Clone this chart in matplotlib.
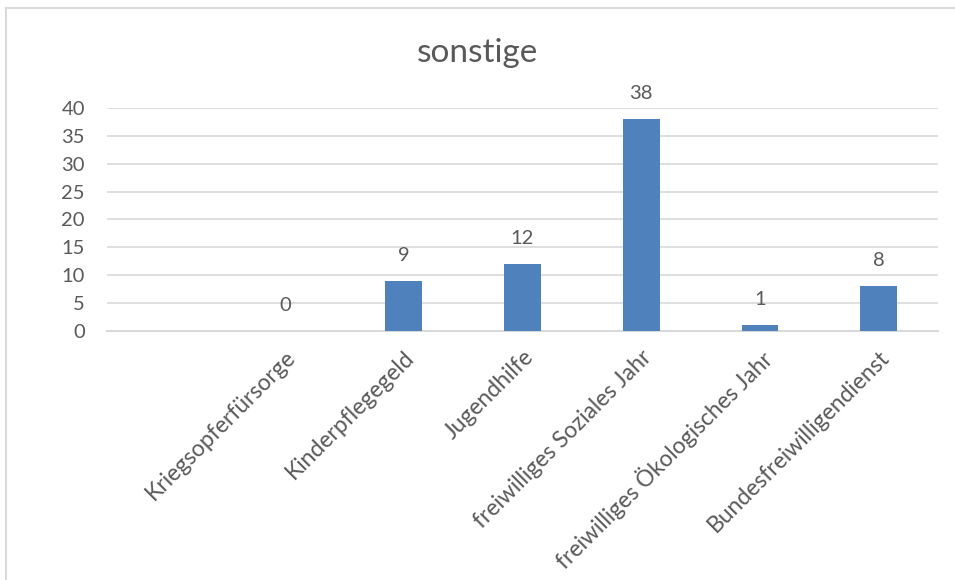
import numpy as np
import matplotlib
matplotlib.use("Agg")
import matplotlib.pyplot as plt
from matplotlib.lines import Line2D

# Data
categories = ["", "Kriegsopferfürsorge", "Kinderpflegegeld", "Jugendhilfe",
              "freiwilliges Soziales Jahr", "freiwilliges Ökologisches Jahr",
              "Bundesfreiwilligendienst"]
values = [np.nan, 0, 9, 12, 38, 1, 8]
yticks = [0, 5, 10, 15, 20, 25, 30, 35, 40]

text_color = "#595959"
grid_color = "#D9D9D9"
bar_color = "#4F81BD"

plt.rcParams["font.family"] = ["Lato", "DejaVu Sans"]

fig = plt.figure(figsize=(9.55, 5.8), dpi=100)
ax = fig.add_axes([107 / 955, 1 - 331 / 580, (938 - 107) / 955, (331 - 108) / 580])

x = np.arange(len(categories))
ax.bar(x, values, width=0.31, color=bar_color, zorder=3)

# data labels
for xi, v in zip(x, values):
    if np.isnan(v):
        continue
    ax.annotate(str(int(v)), (xi, v), xytext=(0, 18.5), textcoords="offset points",
                ha="center", va="center", fontsize=14.5, color=text_color)

ax.set_xlim(-0.5, len(categories) - 0.5)
ax.set_ylim(0, 40)
ax.set_yticks(yticks)
ax.set_yticklabels([str(t) for t in yticks], fontsize=14.5, color=text_color)
ax.set_xticks(x)
ax.set_xticklabels(categories, rotation=45, ha="right", va="top",
                   rotation_mode="anchor", fontsize=16.5, color=text_color)
ax.tick_params(axis="both", length=0)
ax.tick_params(axis="y", pad=16)
ax.tick_params(axis="x", pad=11)

ax.grid(axis="y", color=grid_color, linewidth=1.2, zorder=0)
for side in ["top", "right", "left"]:
    ax.spines[side].set_visible(False)
ax.spines["bottom"].set_color(grid_color)
ax.spines["bottom"].set_linewidth(1.5)

fig.text(0.5, 1 - 53 / 580, "sonstige", ha="center", va="center",
         fontsize=24, color=text_color)

# outer chart frame (top and left edges visible)
fig.add_artist(Line2D([6 / 955, 1], [1 - 8 / 580, 1 - 8 / 580],
                      transform=fig.transFigure, color=grid_color, linewidth=1.5))
fig.add_artist(Line2D([6 / 955, 6 / 955], [0, 1 - 8 / 580],
                      transform=fig.transFigure, color=grid_color, linewidth=1.5))

fig.savefig("out.png", dpi=100)
